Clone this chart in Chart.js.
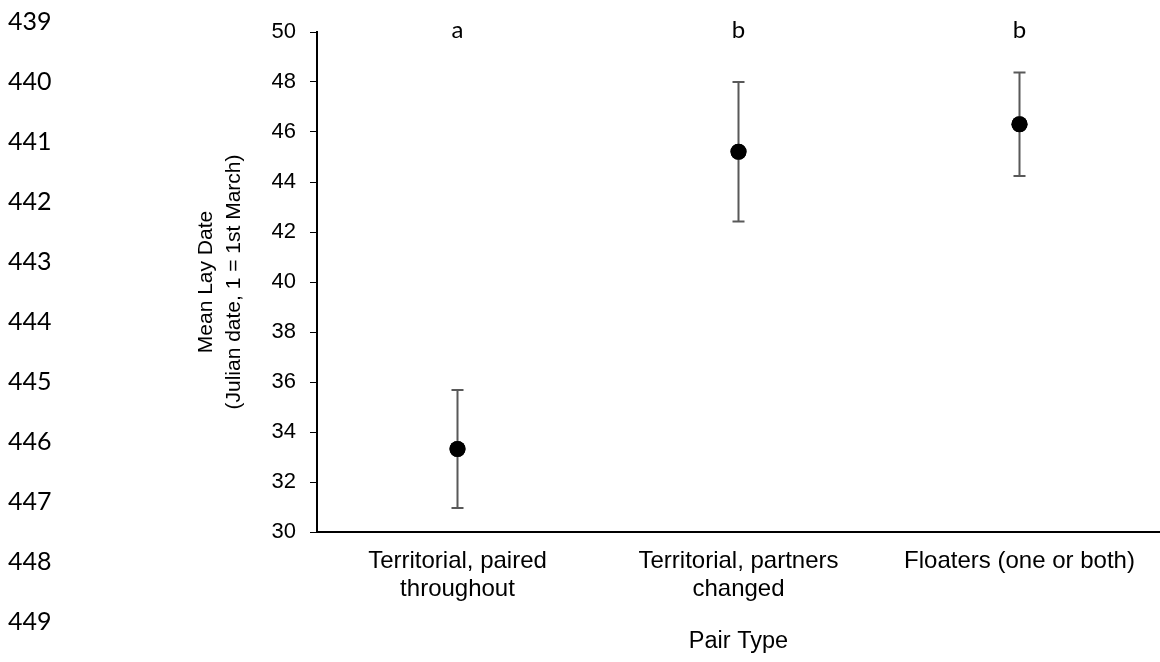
<!DOCTYPE html>
<html>
<head>
<meta charset="utf-8">
<script src="https://cdn.jsdelivr.net/npm/chart.js@4"></script>
<style>
  html, body { margin: 0; padding: 0; background: #fff; }
  #wrap { position: relative; width: 1160px; height: 662px; }
  #myChart { display: block; }
  #lineNums { position: absolute; left: 8px; top: 0; font-family: Lato, "Open Sans", sans-serif; font-size: 25px; color: #000; }
  #lineNums div { height: 60px; line-height: 40px; }
</style>
</head>
<body>
<div id="wrap">
  <canvas id="myChart" width="1160" height="662"></canvas>
  <div id="lineNums"></div>
</div>
<script>
// manuscript line numbers on the left margin
const lineNumbers = [439, 440, 441, 442, 443, 444, 445, 446, 447, 448, 449];

const pairTypes = [
    ['Territorial, paired', 'throughout'],
    ['Territorial, partners', 'changed'],
    'Floaters (one or both)'
];
const meanLayDate = [33.32, 45.21, 46.31];
const errLayDate = [2.36, 2.79, 2.07];
const sigLetters = ['a', 'b', 'b'];
const letterLevel = 50;

const yTicks = { min: 30, max: 50, step: 2 };

let nums = document.getElementById('lineNums');
lineNumbers.forEach(n => {
    nums.innerHTML += "<div>" + n + "</div>";
});

// error bars + significance letters, drawn from the chart scales
const errorBars = {
    id: 'errorBars',
    afterDatasetsDraw(chart) {
        const ctx = chart.ctx;
        const xs = chart.scales.x;
        const ys = chart.scales.y;
        ctx.save();
        ctx.strokeStyle = '#595959';
        ctx.lineWidth = 2;
        meanLayDate.forEach((m, i) => {
            const x = xs.getPixelForValue(i);
            const top = ys.getPixelForValue(m + errLayDate[i]);
            const bot = ys.getPixelForValue(m - errLayDate[i]);
            ctx.beginPath();
            ctx.moveTo(x, top); ctx.lineTo(x, bot);
            ctx.moveTo(x - 6, top); ctx.lineTo(x + 6, top);
            ctx.moveTo(x - 6, bot); ctx.lineTo(x + 6, bot);
            ctx.stroke();
        });
        ctx.restore();
    },
    afterDraw(chart) {
        const ctx = chart.ctx;
        const xs = chart.scales.x;
        const ys = chart.scales.y;
        ctx.save();
        ctx.fillStyle = '#000';
        ctx.font = '24px Lato, "Open Sans", sans-serif';
        ctx.textAlign = 'center';
        ctx.textBaseline = 'middle';
        sigLetters.forEach((l, i) => {
            ctx.fillText(l, xs.getPixelForValue(i), ys.getPixelForValue(letterLevel) - 2);
        });
        ctx.restore();
    }
};

// points are drawn on top of the error bars
const dotsOnTop = {
    id: 'dotsOnTop',
    afterDatasetsDraw(chart) {
        chart.getDatasetMeta(0).data.forEach(pt => pt.draw(chart.ctx));
    }
};

new Chart(document.getElementById('myChart'), {
    type: 'line',
    data: {
        labels: pairTypes,
        datasets: [{
            data: meanLayDate,
            showLine: false,
            pointRadius: 8,
            pointBackgroundColor: '#000',
            pointBorderColor: '#000',
            pointBorderWidth: 0
        }]
    },
    options: {
        responsive: false,
        animation: false,
        events: [],
        devicePixelRatio: 1,
        layout: { autoPadding: false, padding: { top: 32, left: 0, right: 0, bottom: 0 } },
        plugins: {
            legend: { display: false },
            tooltip: { enabled: false }
        },
        scales: {
            x: {
                type: 'category',
                offset: true,
                grid: { display: false, drawTicks: false, tickLength: 0 },
                border: { display: true, color: '#000', width: 2 },
                ticks: {
                    color: '#000',
                    padding: 16,
                    maxRotation: 0,
                    autoSkip: false,
                    font: { family: '"Liberation Sans", Arial, sans-serif', size: 24, lineHeight: 1.15 }
                },
                title: {
                    display: true,
                    text: 'Pair Type',
                    color: '#000',
                    padding: { top: 0, bottom: 6 },
                    font: { family: '"Liberation Sans", Arial, sans-serif', size: 23.5, lineHeight: 1.2 }
                },
                afterFit: (scale) => {
                    scale.height = 130;
                    scale.paddingLeft = 0;
                    scale.paddingRight = 0;
                }
            },
            y: {
                min: yTicks.min,
                max: yTicks.max,
                grid: { drawOnChartArea: false, drawTicks: true, tickLength: 7, color: '#000', lineWidth: 1 },
                border: { display: true, color: '#000', width: 2 },
                ticks: {
                    stepSize: yTicks.step,
                    color: '#000',
                    padding: 14,
                    font: { family: '"Liberation Sans", Arial, sans-serif', size: 22 }
                },
                title: {
                    display: true,
                    text: ['Mean Lay Date', '(Julian date, 1 = 1st March)'],
                    color: '#000',
                    padding: { top: 192, bottom: 0 },
                    font: { family: '"Liberation Sans", Arial, sans-serif', size: 21, lineHeight: 1.35 }
                },
                afterFit: (scale) => { scale.width = 317; }
            }
        }
    },
    plugins: [errorBars, dotsOnTop]
});
</script>
</body>
</html>
